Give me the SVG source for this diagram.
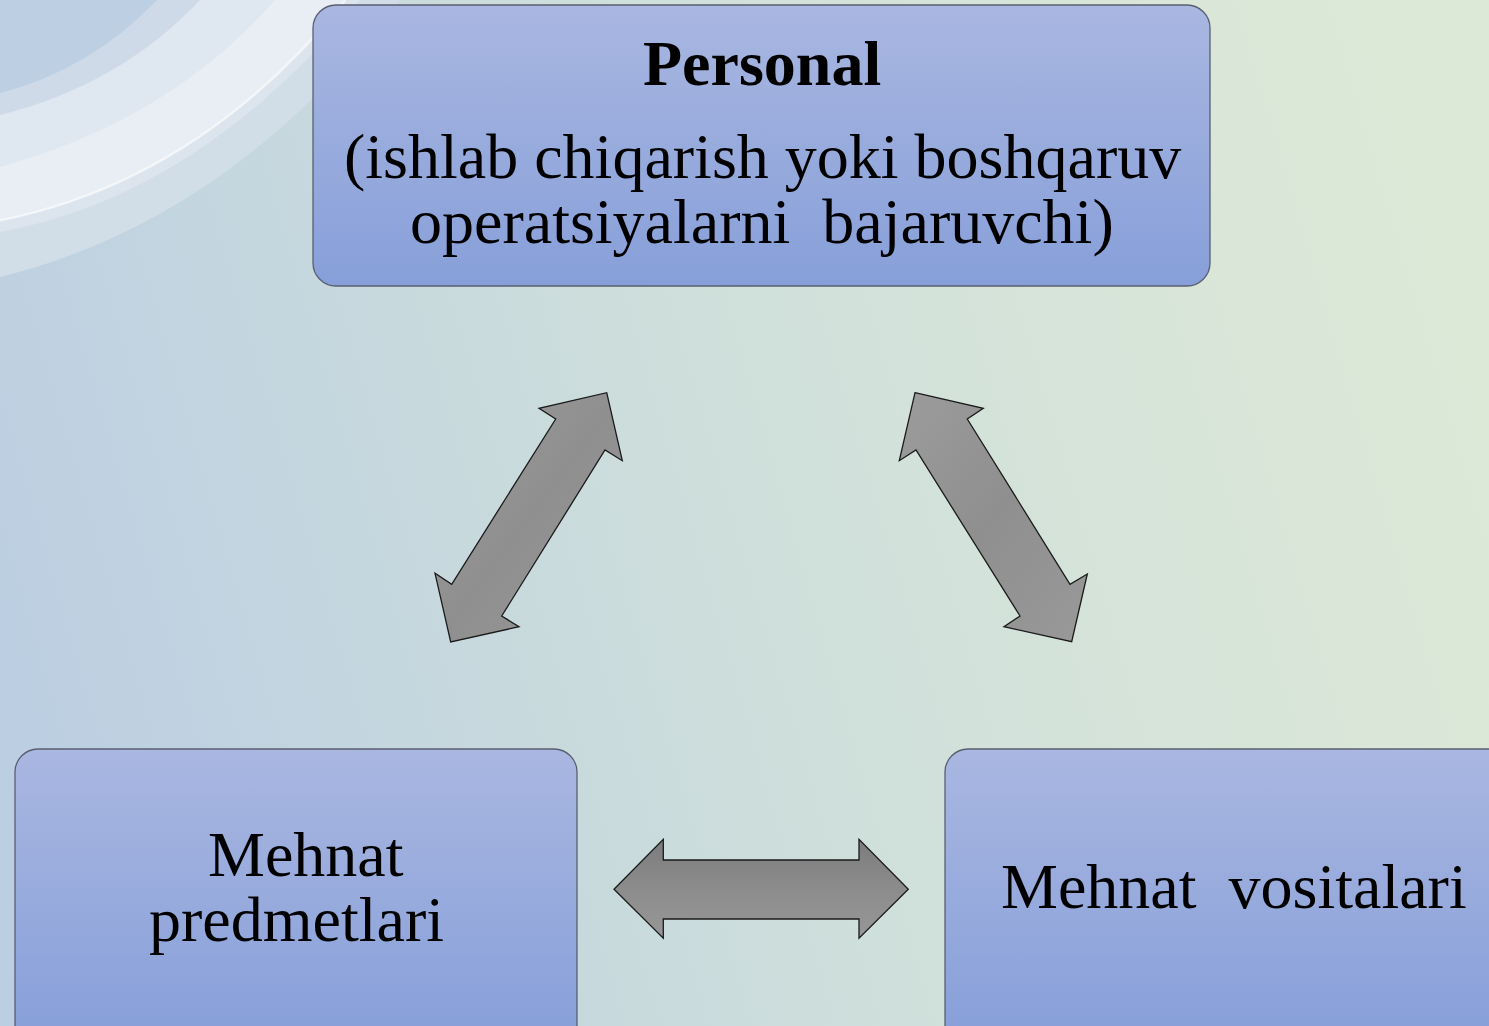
<svg xmlns="http://www.w3.org/2000/svg" width="1489" height="1026" viewBox="0 0 1489 1026">
<defs>
<style>
.box{stroke:#5a5f70;stroke-width:1.3;fill:url(#boxg)}
.arr{stroke:#1a1a1a;stroke-width:1.3;stroke-linejoin:miter}
.t{font-family:"Liberation Serif","Times New Roman",serif;font-size:64px;fill:#000}
.b{font-weight:bold}
</style>
<linearGradient id="bg" x1="0" y1="0.6" x2="1" y2="0.4">
<stop offset="0" stop-color="#bccfe2"/>
<stop offset="0.5" stop-color="#cfdfdb"/>
<stop offset="1" stop-color="#dde9d7"/>
</linearGradient>
<linearGradient id="boxg" x1="0" y1="0" x2="0" y2="1">
<stop offset="0" stop-color="#a9b7e1"/>
<stop offset="1" stop-color="#879fd9"/>
</linearGradient>
<linearGradient id="boxg2" gradientUnits="userSpaceOnUse" x1="0" y1="749" x2="0" y2="1040">
<stop offset="0" stop-color="#a9b7e1"/>
<stop offset="1" stop-color="#879fd9"/>
</linearGradient>
<linearGradient id="ag1" x1="0" y1="0" x2="1" y2="1">
<stop offset="0" stop-color="#9c9c9c"/>
<stop offset="0.5" stop-color="#8f8f8f"/>
<stop offset="1" stop-color="#999"/>
</linearGradient>
<linearGradient id="ag2" x1="0" y1="0" x2="0" y2="1">
<stop offset="0" stop-color="#7c7c7c"/>
<stop offset="0.5" stop-color="#8c8c8c"/>
<stop offset="1" stop-color="#979797"/>
</linearGradient>
</defs>
<rect width="1489" height="1026" fill="url(#bg)"/>
<g id="swoosh">
<path d="M0,0 L400,0 Q230,220 0,277 Z" fill="#d2dee7"/>
<path d="M0,0 L360,0 Q200,195 0,232 Z" fill="#dce5ed"/>
<path d="M0,220 Q200,180 345,0" fill="none" stroke="#f4f7f9" stroke-width="3"/>
<path d="M0,0 L344,0 Q199,179 0,219 Z" fill="#e8eef4"/>
<path d="M0,0 L275,0 Q170,120 0,167 Z" fill="#dfe7f0"/>
<path d="M0,0 L200,0 Q120,85 0,115 Z" fill="#cedae8"/>
<path d="M0,0 L157,0 Q90,70 0,93 Z" fill="#bccfe3"/>
</g>
<g id="connectors">
<path class="arr" fill="url(#ag1)" d="M606.7,392.7 L622.3,460.7 L605,450 L501.7,616 L519,626.7 L450.7,642 L435,573.3 L451.7,584.3 L555.7,419 L539,408.3 Z"/>
<path class="arr" fill="url(#ag1)" d="M915,392.7 L983.3,408.3 L967.3,419 L1070,584.3 L1087.3,574 L1071.7,641.7 L1004,626.7 L1020,616 L916,450 L899.3,460.7 Z"/>
<path class="arr" fill="url(#ag2)" d="M614,889.3 L663.3,839.3 L663.3,860 L859,860 L859,839.3 L908.3,889.3 L859,938.3 L859,919 L663.3,919 L663.3,938.3 Z"/>
</g>
<g id="node-personal">
<rect class="box" x="313" y="5" width="897" height="281" rx="23"/>
<text class="t b" x="643" y="85">Personal</text>
<text class="t" x="344" y="178">(ishlab chiqarish yoki boshqaruv</text>
<text class="t" x="410" y="243" xml:space="preserve">operatsiyalarni  bajaruvchi)</text>
</g>
<g id="node-predmetlari">
<rect class="box" x="15" y="749" width="562" height="300" rx="23" style="fill:url(#boxg2)"/>
<text class="t" x="208" y="876">Mehnat</text>
<text class="t" x="149" y="941">predmetlari</text>
</g>
<g id="node-vositalari">
<rect class="box" x="945" y="749" width="570" height="300" rx="23" style="fill:url(#boxg2)"/>
<text class="t" x="1001" y="908" xml:space="preserve">Mehnat  vositalari</text>
</g>
</svg>
